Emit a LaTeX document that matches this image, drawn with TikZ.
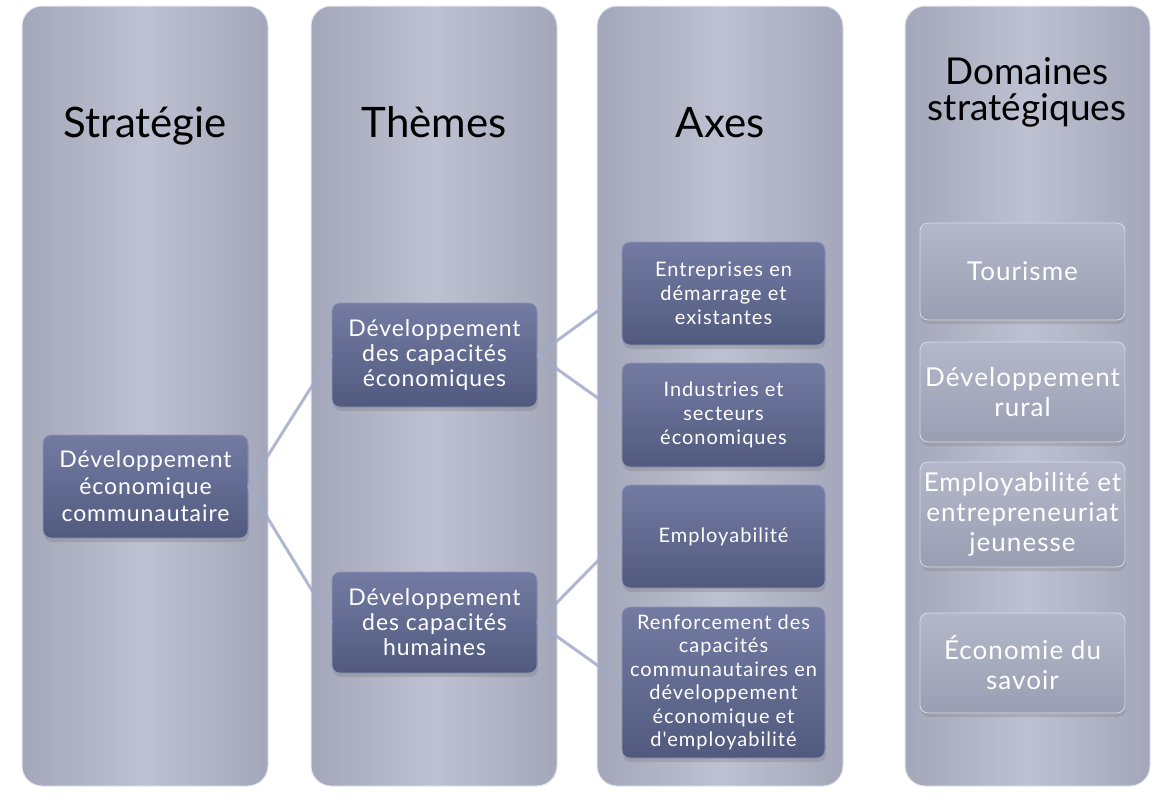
\documentclass[tikz,border=0pt]{standalone}
\usepackage{fontspec}
\setmainfont{Lato}
\newfontfamily\boxfont[LetterSpace=4]{Lato}
\newfontfamily\axfont[LetterSpace=5]{Lato}
\usetikzlibrary{shadows}
\definecolor{panelE}{HTML}{A3A7B9}
\definecolor{panelM}{HTML}{BEC1D1}
\definecolor{boxT}{HTML}{737BA3}
\definecolor{boxB}{HTML}{515A7E}
\definecolor{lboxT}{HTML}{B4B8CA}
\definecolor{lboxB}{HTML}{9A9EB2}
\definecolor{linkC}{HTML}{A2AACA}
\begin{document}
\begin{tikzpicture}[x=1pt,y=-1pt,
  panel/.style={rounded corners=20pt, left color=panelE, right color=panelE, middle color=panelM, draw=white!60!panelM, line width=1pt},
  hdr/.style={text=black, font=\fontsize{42}{44}\selectfont, align=center, anchor=base},
  dbox/.style={rounded corners=8pt, top color=boxT, bottom color=boxB, draw=boxT!80!white, line width=0.8pt, text=white, align=center, inner sep=0pt, minimum width=205pt, drop shadow={shadow xshift=1pt, shadow yshift=-4pt, opacity=0.35}},
  lbox/.style={rounded corners=8pt, top color=lboxT, bottom color=lboxB, draw=white!50!lboxT, line width=0.8pt, text=white, align=center, inner sep=0pt, minimum width=205pt, drop shadow={shadow xshift=1pt, shadow yshift=-4pt, opacity=0.3}, font=\boxfont\fontsize{26}{30}\selectfont},
  link/.style={draw=linkC, line width=3pt, opacity=0.85}
]
\useasboundingbox (0,0) rectangle (1159,795);
% panels
\path[panel] (22,6) rectangle (268,786);
\path[panel] (311,6) rectangle (557,786);
\path[panel] (597,6) rectangle (843,786);
\path[panel] (905,6) rectangle (1150,786);
% headers
\node[hdr] (h1) at (145,137) {Stratégie};
\node[hdr] (h2) at (434,137) {Thèmes};
\node[hdr] (h3) at (720,137) {Axes};
\node[hdr, font=\fontsize{37}{36}\selectfont] (h4) at (1027,120) {Domaines\\stratégiques};
% dark boxes
\node[dbox, minimum height=103pt, font=\boxfont\fontsize{23}{27}\selectfont] (dec) at (145.5,486.5) {Développement\\économique\\communautaire};
\node[dbox, minimum height=104pt, font=\boxfont\fontsize{23}{25}\selectfont] (dce) at (434.5,355) {Développement\\des capacités\\économiques};
\node[dbox, minimum height=101pt, font=\boxfont\fontsize{23}{25}\selectfont] (dch) at (434.5,622.5) {Développement\\des capacités\\humaines};
\node[dbox, minimum width=203pt, minimum height=103pt, font=\axfont\fontsize{20}{24}\selectfont] (ent) at (723.5,293.5) {Entreprises en\\démarrage et\\existantes};
\node[dbox, minimum width=203pt, minimum height=104pt, font=\axfont\fontsize{20}{24}\selectfont] (ind) at (723.5,415) {Industries et\\secteurs\\économiques};
\node[dbox, minimum width=203pt, minimum height=103pt, font=\axfont\fontsize{20}{24}\selectfont] (emp) at (723.5,536.5) {Employabilité};
\node[dbox, minimum width=203pt, minimum height=151pt, font=\axfont\fontsize{20}{23.5}\selectfont] (ren) at (723.5,682.5) {Renforcement des\\capacités\\communautaires en\\développement\\économique et\\d'employabilité};
% light boxes
\node[lbox, minimum height=97pt] (tou) at (1022.5,271.5) {Tourisme};
\node[lbox, minimum height=100pt] (rur) at (1022.5,392) {Développement\\rural};
\node[lbox, minimum height=105pt] (ej) at (1022.5,514.5) {Employabilité et\\entrepreneuriat\\jeunesse};
\node[lbox, minimum height=100pt] (eco) at (1022.5,663) {Économie du\\savoir};
% links
\draw[link] (dec.east) -- (dce.west);
\draw[link] (dec.east) -- (dch.west);
\draw[link] (dce.east) -- (ent.west);
\draw[link] (dce.east) -- (ind.west);
\draw[link] (dch.east) -- (emp.west);
\draw[link] (dch.east) -- (ren.west);
\end{tikzpicture}
\end{document}
